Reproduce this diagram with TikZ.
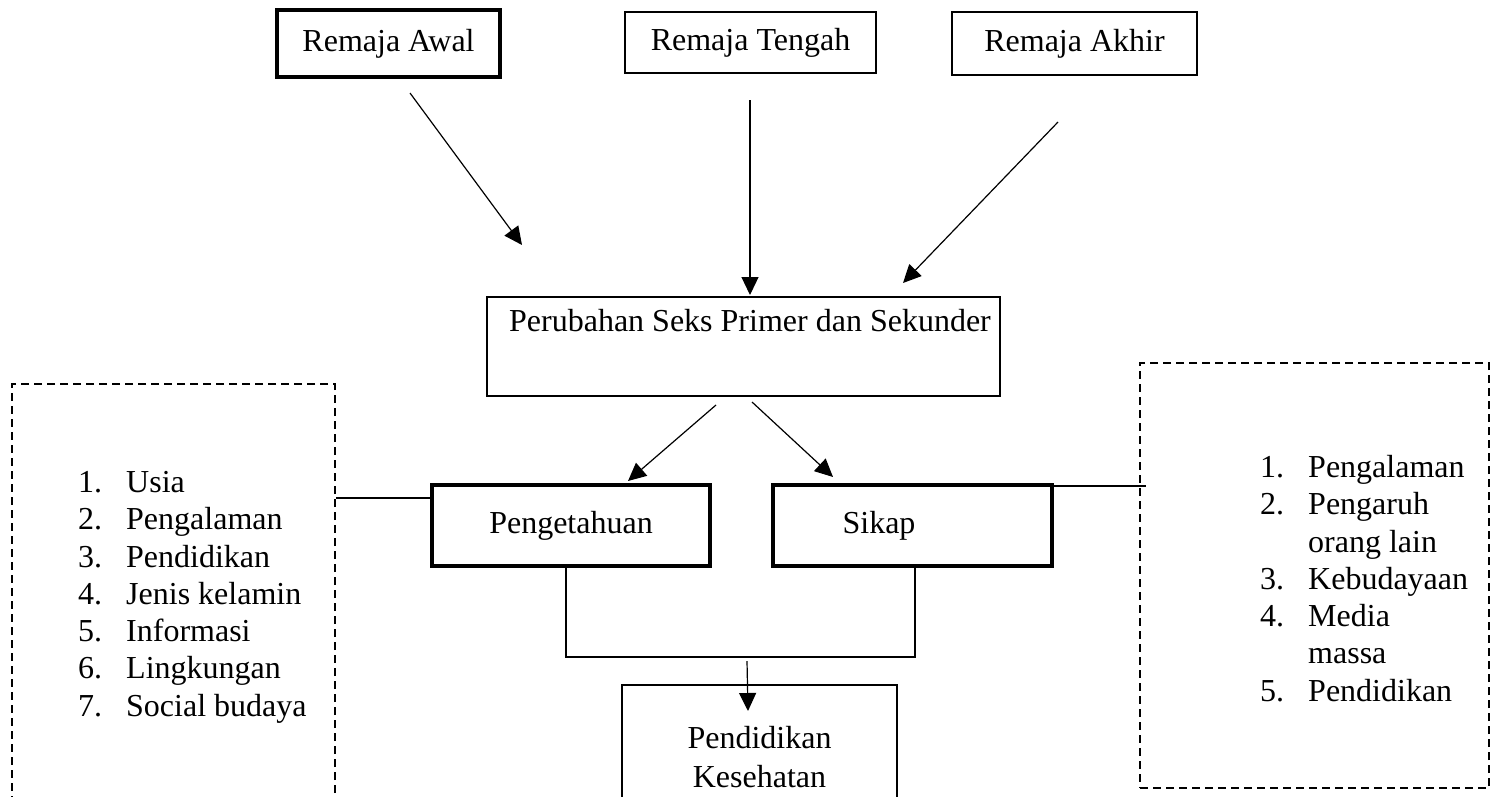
\documentclass[tikz,border=0pt]{standalone}
\usepackage{fontspec}
\setmainfont{Liberation Serif}
\usetikzlibrary{arrows.meta,calc}
\begin{document}
\begin{tikzpicture}[x=1pt,y=-1pt,
  every node/.style={inner sep=0pt,font=\fontsize{32}{37.3}\selectfont},
  thinbox/.style={draw,line width=1.2pt,minimum width=#1},
  thickbox/.style={draw,line width=4pt,minimum width=#1},
  dashbox/.style={draw,line width=1.5pt,dash pattern=on 8pt off 5pt},
  conn/.style={line width=1.2pt},
  arr/.style={line width=1.2pt,-{Triangle[length=18pt,width=17pt]}},
  listtext/.style={anchor=north west,align=left}
]
\useasboundingbox (0,0) rectangle (1501,796);
\clip (0,0) rectangle (1501,796);
\fill[white] (0,0) rectangle (1501,796);

% top boxes
\node[thickbox=223pt,minimum height=67pt] (awal) at (388.5,43.5) {Remaja Awal};
\node[thinbox=251pt,minimum height=61pt] (tengah) at (750.5,42.5) {Remaja Tengah};
\node[thinbox=245pt,minimum height=63pt] (akhir) at (1074.5,43.5) {Remaja Akhir};

% middle box
\node[thinbox=513pt,minimum height=99pt] (perubahan) at (743.5,346.5) {};
\node (perubahantxt) at (750,321) {Perubahan Seks Primer dan Sekunder};

% knowledge / attitude
\node[thickbox=278pt,minimum height=81pt] (peng) at (571,525.5) {Pengetahuan};
\node[thickbox=279pt,minimum height=81pt] (sikap) at (912.5,525.5) {Sikap\hspace*{67pt}};

% bottom box
\node[thinbox=275pt,minimum height=145pt,align=center,font=\fontsize{32}{39}\selectfont] (pk) at (759.5,757.5) {Pendidikan\\Kesehatan};

% dashed boxes
\node[dashbox,minimum width=323pt,minimum height=450pt] (leftbox) at (173.5,609) {};
\node[dashbox,minimum width=349pt,minimum height=425pt] (rightbox) at (1314.5,575.5) {};

\node[listtext] (leftlist) at (78,471) {%
\makebox[48pt][l]{1.}Usia\\
\makebox[48pt][l]{2.}Pengalaman\\
\makebox[48pt][l]{3.}Pendidikan\\
\makebox[48pt][l]{4.}Jenis kelamin\\
\makebox[48pt][l]{5.}Informasi\\
\makebox[48pt][l]{6.}Lingkungan\\
\makebox[48pt][l]{7.}Social budaya};

\node[listtext] (rightlist) at (1260,455) {%
\makebox[48pt][l]{1.}Pengalaman\\
\makebox[48pt][l]{2.}Pengaruh\\
\makebox[48pt][l]{}orang lain\\
\makebox[48pt][l]{3.}Kebudayaan\\
\makebox[48pt][l]{4.}Media\\
\makebox[48pt][l]{}massa\\
\makebox[48pt][l]{5.}Pendidikan};

% arrow end points
\coordinate (a1s) at (410,93);   \coordinate (a1e) at (522,245);
\coordinate (a2s) at (750,100);  \coordinate (a2e) at (750,295);
\coordinate (a3s) at (1058,122); \coordinate (a3e) at (903,283);
\coordinate (a4s) at (716,405);  \coordinate (a4e) at (628,481);
\coordinate (a5s) at (752,402);  \coordinate (a5e) at (833,477);
\coordinate (a6s) at (747,661);  \coordinate (a6e) at (748,711);

\draw[arr] (a1s) -- (a1e);
\draw[arr] (a2s) -- (a2e);
\draw[arr] (a3s) -- (a3e);
\draw[arr] (a4s) -- (a4e);
\draw[arr] (a5s) -- (a5e);
\draw[arr] (a6s) -- (a6e);

% side connectors
\coordinate (pl) at ([yshift=27.5pt]peng.west);
\draw[conn] (pl) -- (pl -| leftbox.east);
\coordinate (sr) at ([yshift=-3pt]sikap.north east);
\coordinate (sre) at ($(sr -| rightbox.west)+(7,0)$);
\draw[conn] (sr) -- (sre);

% join lines
\coordinate (pb) at ([xshift=-5pt]peng.south);
\coordinate (sb) at ([xshift=2.5pt]sikap.south);
\coordinate (jy) at (0,657);
\draw[conn] (pb) -- (pb |- jy) -- (sb |- jy) -- (sb);
\end{tikzpicture}
\end{document}
